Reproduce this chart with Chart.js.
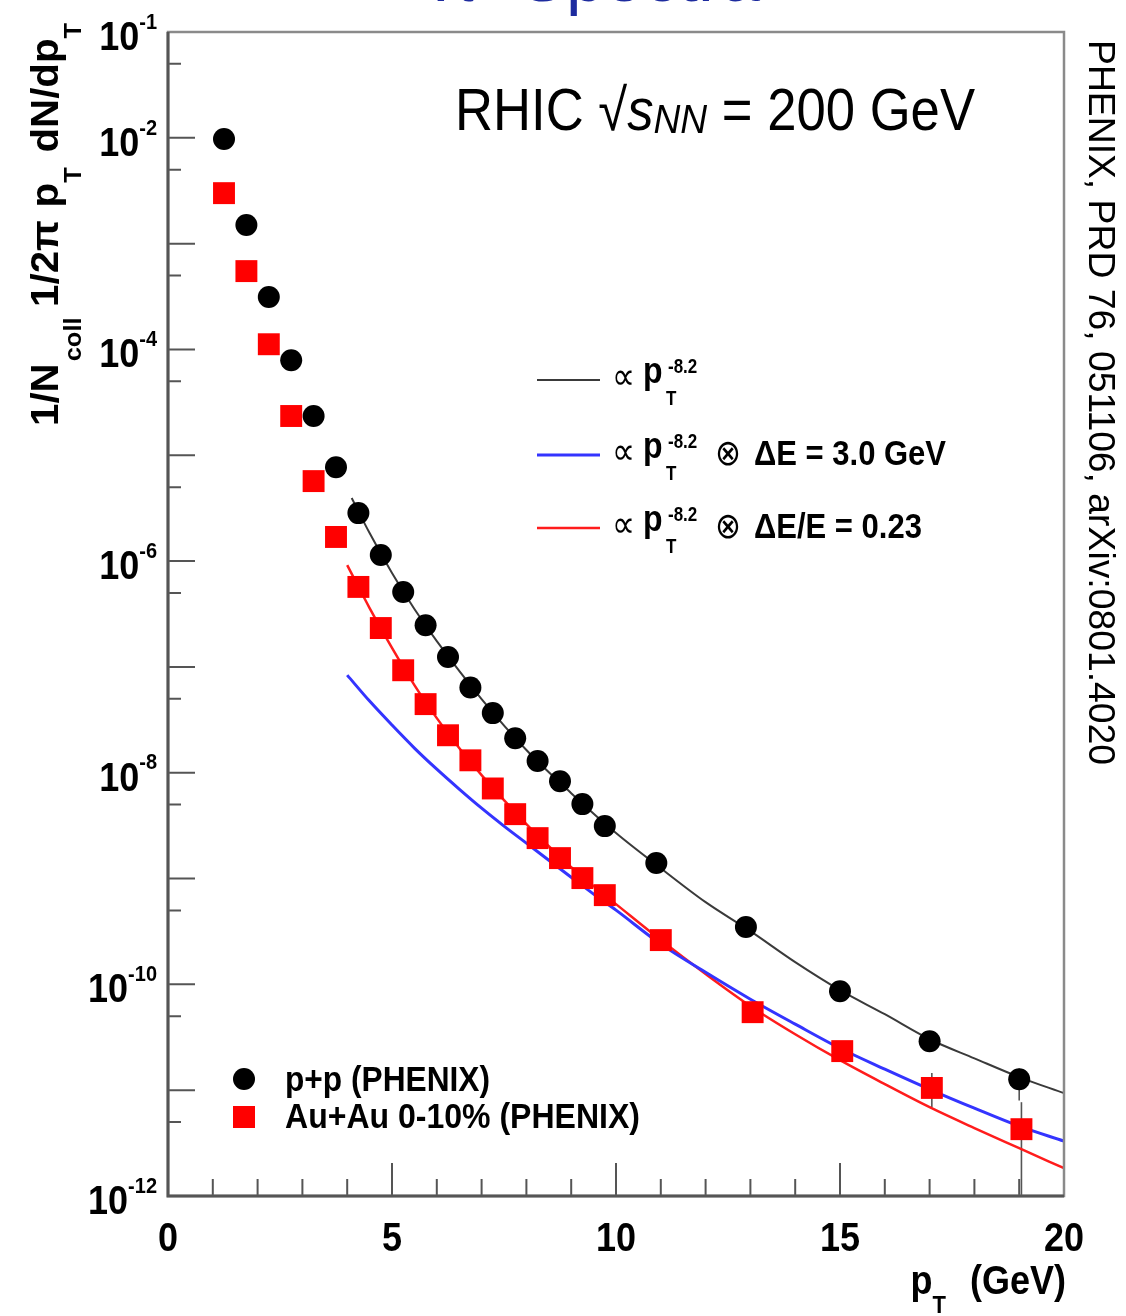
<!DOCTYPE html>
<html lang="en">
<head>
    <meta charset="UTF-8" />
    <title>π0 Spectra</title>
    <script src="https://cdn.jsdelivr.net/npm/chart.js@4.4.1/dist/chart.umd.min.js"></script>
    <style>
        html, body { margin: 0; padding: 0; background: #fff; }
        canvas { display: block; }
    </style>
</head>
<body>
    <canvas id="chart" width="1126" height="1316"></canvas>

    <script>
        // p+p reference (PHENIX)
        const ppPt = [1.25, 1.75, 2.25, 2.75, 3.25, 3.75, 4.25, 4.75, 5.25, 5.75, 6.25, 6.75,
                      7.25, 7.75, 8.25, 8.75, 9.25, 9.75, 10.9, 12.9, 15, 17, 19];
        const ppYield = [9.75e-3, 1.5e-3, 3.13e-4, 7.9e-5, 2.35e-5, 7.7e-6, 2.84e-6, 1.14e-6,
                         5.1e-7, 2.48e-7, 1.24e-7, 6.4e-8, 3.66e-8, 2.12e-8, 1.29e-8, 8.3e-9,
                         5.05e-9, 3.13e-9, 1.40e-9, 3.48e-10, 8.6e-11, 2.9e-11, 1.27e-11];

        // Au+Au 0-10% central (PHENIX)
        const auPt = [1.25, 1.75, 2.25, 2.75, 3.25, 3.75, 4.25, 4.75, 5.25, 5.75, 6.25, 6.75,
                      7.25, 7.75, 8.25, 8.75, 9.25, 9.75, 11, 13.05, 15.05, 17.05, 19.05];
        const auYield = [3.0e-3, 5.5e-4, 1.12e-4, 2.35e-5, 5.7e-6, 1.69e-6, 5.7e-7, 2.33e-7,
                         9.3e-8, 4.45e-8, 2.26e-8, 1.31e-8, 7.1e-9, 4.06e-9, 2.41e-9, 1.56e-9,
                         1.01e-9, 6.97e-10, 2.62e-10, 5.46e-11, 2.34e-11, 1.05e-11, 4.28e-12];

        // error bars that stick out of the markers
        const ppErrPt = [19];
        const ppErrLo = [8e-12];
        const ppErrHi = [1.6e-11];
        const auErrPt = [17.05, 19.05];
        const auErrLo = [6.9e-12, 1e-13];
        const auErrHi = [1.45e-11, 7.7e-12];

        // power law curve through p+p
        const powPt = [4.1, 4.5, 5, 5.5, 6, 7, 8, 9, 10, 11, 12, 13, 14, 15, 16, 17, 18, 19, 20];
        const powYield = [3.94e-6, 1.84e-6, 7.71e-7, 3.52e-7, 1.75e-7, 4.97e-8, 1.64e-8, 6.41e-9,
                          2.69e-9, 1.25e-9, 5.98e-10, 3.18e-10, 1.62e-10, 8.81e-11, 5.22e-11,
                          3.03e-11, 2.00e-11, 1.33e-11, 9.37e-12];

        // energy loss curves
        const elossPt = [4, 4.5, 5, 5.5, 6, 6.5, 7, 7.5, 8, 8.5, 9, 9.5, 10, 11, 12, 13, 14, 15,
                         16, 17, 18, 19, 20];
        const constLossYield = [8.36e-8, 4.75e-8, 2.82e-8, 1.71e-8, 1.08e-8, 7.0e-9, 4.62e-9,
                                3.13e-9, 2.16e-9, 1.49e-9, 1.03e-9, 7.13e-10, 5.03e-10, 2.40e-10,
                                1.30e-10, 7.24e-11, 4.21e-11, 2.49e-11, 1.58e-11, 1.02e-11,
                                6.76e-12, 4.57e-12, 3.30e-12];
        const fracLossYield = [9.16e-7, 3.60e-7, 1.51e-7, 6.73e-8, 3.28e-8, 1.71e-8, 9.49e-9,
                               5.51e-9, 3.27e-9, 2.02e-9, 1.28e-9, 8.48e-10, 5.73e-10, 2.62e-10,
                               1.25e-10, 6.22e-11, 3.38e-11, 1.92e-11, 1.14e-11, 6.90e-12,
                               4.38e-12, 2.83e-12, 1.83e-12];

        const xLabels = [0, 5, 10, 15, 20];
        const yLabelExps = [-1, -2, -4, -6, -8, -10, -12];

        const FF = '"Liberation Sans", Arial, Helvetica, "DejaVu Sans", sans-serif';
        const B = (s) => `bold ${s}px ${FF}`;
        const N = (s) => `${s}px ${FF}`;
        const I = (s) => `italic ${s}px ${FF}`;

        const BLACK_LINE = '#3a3a3a';
        const BLUE = '#3434ff';
        const RED = '#ff1c1c';

        const pts = (xs, ys) => xs.map((x, i) => ({ x: x, y: ys[i] }));

        function richWidth(ctx, parts) {
            let w = 0;
            for (const p of parts) {
                ctx.font = p.font;
                w += (p.gap || 0) + ctx.measureText(p.t).width;
            }
            return w;
        }

        // draws a run of text pieces (sub/superscripts via dy) starting at x,y
        function drawRich(ctx, x, y, parts, o = {}) {
            const natural = richWidth(ctx, parts);
            const sx = o.width ? o.width / natural : 1;
            ctx.save();
            ctx.translate(x, y);
            if (o.rotate) ctx.rotate(o.rotate);
            ctx.scale(sx, o.sy || 1);
            ctx.fillStyle = o.color || '#000';
            ctx.textAlign = 'left';
            ctx.textBaseline = 'alphabetic';
            let cx = 0;
            if (o.align === 'right') cx = -natural;
            if (o.align === 'center') cx = -natural / 2;
            for (const p of parts) {
                ctx.font = p.font;
                cx += p.gap || 0;
                ctx.fillText(p.t, cx, p.dy || 0);
                cx += ctx.measureText(p.t).width;
            }
            ctx.restore();
        }

        function errorBars(ctx, xs, lo, hi, xs_, ys_) {
            for (let i = 0; i < xs.length; i++) {
                const px = xs_.getPixelForValue(xs[i]);
                ctx.beginPath();
                ctx.moveTo(px, ys_.getPixelForValue(hi[i]));
                ctx.lineTo(px, ys_.getPixelForValue(lo[i]));
                ctx.stroke();
            }
        }

        const decorations = {
            id: 'decorations',
            beforeDatasetsDraw(chart) {
                const { ctx, chartArea: a, scales: { x, y } } = chart;
                ctx.save();
                ctx.beginPath();
                ctx.rect(a.left, a.top, a.right - a.left, a.bottom - a.top);
                ctx.clip();
                ctx.strokeStyle = '#555';
                ctx.lineWidth = 1.6;
                errorBars(ctx, ppErrPt, ppErrLo, ppErrHi, x, y);
                errorBars(ctx, auErrPt, auErrLo, auErrHi, x, y);
                ctx.restore();
            },
            afterDatasetsDraw(chart) {
                const { ctx, chartArea: a, scales: { x, y } } = chart;
                ctx.save();
                // ticks
                ctx.strokeStyle = '#555';
                ctx.lineWidth = 2;
                ctx.beginPath();
                for (let e = -12; e <= -1; e++) {
                    const py = y.getPixelForValue(Math.pow(10, e));
                    ctx.moveTo(a.left, py);
                    ctx.lineTo(a.left + 27, py);
                    if (e < -1) {
                        const pm = y.getPixelForValue(5 * Math.pow(10, e));
                        ctx.moveTo(a.left, pm);
                        ctx.lineTo(a.left + 13, pm);
                    }
                }
                for (let v = 0; v <= 20; v++) {
                    const px = x.getPixelForValue(v);
                    ctx.moveTo(px, a.bottom);
                    ctx.lineTo(px, a.bottom - (v % 5 === 0 ? 33 : 17));
                }
                ctx.stroke();
                // frame
                ctx.strokeStyle = '#8a8a8a';
                ctx.lineWidth = 2.5;
                ctx.strokeRect(a.left, a.top, a.right - a.left, a.bottom - a.top);
                ctx.strokeStyle = '#555';
                ctx.lineWidth = 3;
                ctx.beginPath();
                ctx.moveTo(a.left, a.top);
                ctx.lineTo(a.left, a.bottom);
                ctx.lineTo(a.right, a.bottom);
                ctx.stroke();
                ctx.restore();
            },
            afterDraw(chart) {
                const { ctx, chartArea: a, scales: { x, y } } = chart;
                const SY = 1.12;

                // y tick labels
                for (const e of yLabelExps) {
                    const py = y.getPixelForValue(Math.pow(10, e));
                    drawRich(ctx, 157, py + 18, [
                        { t: '10', font: B(36) },
                        { t: String(e), font: B(20), dy: -19 }
                    ], { align: 'right', sy: SY });
                }
                // x tick labels
                for (const v of xLabels) {
                    drawRich(ctx, x.getPixelForValue(v), 1251, [{ t: String(v), font: B(36) }],
                        { align: 'center', sy: SY });
                }
                // x title
                drawRich(ctx, 1066, 1294, [
                    { t: 'p', font: B(36) },
                    { t: 'T', font: B(22), dy: 17 },
                    { t: '(GeV)', font: B(36), gap: 24 }
                ], { align: 'right', sy: SY });
                // y title
                drawRich(ctx, 58, 426, [
                    { t: '1/N', font: B(38) },
                    { t: 'coll', font: B(24), dy: 23, gap: 2 },
                    { t: '1/2π', font: B(38), gap: 10 },
                    { t: 'p', font: B(38), gap: 12 },
                    { t: 'T', font: B(24), dy: 23 },
                    { t: 'dN/dp', font: B(38), gap: 14 },
                    { t: 'T', font: B(24), dy: 23 }
                ], { rotate: -Math.PI / 2, width: 403 });

                // curve legend
                const rows = [
                    { y: 380, color: BLACK_LINE, w: 2, tail: null },
                    { y: 455, color: BLUE, w: 3, tail: 'ΔE = 3.0 GeV' },
                    { y: 528, color: RED, w: 2.5, tail: 'ΔE/E = 0.23' }
                ];
                for (const r of rows) {
                    ctx.save();
                    ctx.strokeStyle = r.color;
                    ctx.lineWidth = r.w;
                    ctx.beginPath();
                    ctx.moveTo(537, r.y);
                    ctx.lineTo(600, r.y);
                    ctx.stroke();
                    ctx.restore();
                    drawRich(ctx, 612, r.y + 9, [{ t: '∝', font: N(38) }], { width: 23 });
                    drawRich(ctx, 643, r.y + 3, [{ t: 'p', font: B(32) }], { sy: 1.15 });
                    drawRich(ctx, 668, r.y - 7, [{ t: '-8.2', font: B(17) }], { sy: 1.15 });
                    drawRich(ctx, 666, r.y + 25, [{ t: 'T', font: B(17) }], { sy: 1.15 });
                    if (r.tail) {
                        drawRich(ctx, 715, r.y + 10, [{ t: '⊗', font: N(36) }], { width: 26 });
                        drawRich(ctx, 754, r.y + 10, [{ t: r.tail, font: B(31) }], { sy: 1.15 });
                    }
                }

                // marker legend
                ctx.save();
                ctx.fillStyle = '#000';
                ctx.beginPath();
                ctx.arc(244, 1079, 11, 0, Math.PI * 2);
                ctx.fill();
                ctx.fillStyle = '#ff0000';
                ctx.fillRect(233, 1106, 22, 22);
                ctx.restore();
                drawRich(ctx, 285, 1091, [{ t: 'p+p (PHENIX)', font: B(31) }], { sy: SY, width: 205 });
                drawRich(ctx, 285, 1128, [{ t: 'Au+Au 0-10% (PHENIX)', font: B(31) }], { sy: SY, width: 355 });

                // energy label
                drawRich(ctx, 455, 130, [
                    { t: 'RHIC ', font: N(51) },
                    { t: '√', font: N(51) },
                    { t: 's', font: I(51) },
                    { t: 'NN', font: I(36), dy: 3 },
                    { t: ' = 200 GeV', font: N(51) }
                ], { sy: 1.15, width: 520 });

                // reference along the right edge
                drawRich(ctx, 1089, 40, [{ t: 'PHENIX, PRD 76, 051106, arXiv:0801.4020', font: N(36) }],
                    { rotate: Math.PI / 2, width: 725 });

                // slide title, mostly above the top edge
                drawRich(ctx, 430, 1, [
                    { t: 'π', font: N(70) },
                    { t: '0', font: N(42), dy: -28 },
                    { t: 'Spectra', font: N(70), gap: 18 }
                ], { color: '#1d2b9e', width: 330 });
            }
        };

        const ctx = document.getElementById('chart').getContext('2d');
        const chart = new Chart(ctx, {
            type: 'scatter',
            data: {
                datasets: [
                    {
                        label: 'p+p (PHENIX)',
                        data: pts(ppPt, ppYield),
                        pointStyle: 'circle',
                        pointRadius: 11,
                        backgroundColor: '#000',
                        borderWidth: 0,
                        order: 0
                    },
                    {
                        label: 'Au+Au 0-10% (PHENIX)',
                        data: pts(auPt, auYield),
                        pointStyle: 'rect',
                        pointRadius: 15.5,
                        backgroundColor: '#ff0000',
                        borderWidth: 0,
                        order: 0
                    },
                    {
                        label: 'pT^-8.2',
                        data: pts(powPt, powYield),
                        showLine: true,
                        pointRadius: 0,
                        borderColor: BLACK_LINE,
                        borderWidth: 2,
                        cubicInterpolationMode: 'monotone',
                        order: 1
                    },
                    {
                        label: 'pT^-8.2 x dE = 3.0 GeV',
                        data: pts(elossPt, constLossYield),
                        showLine: true,
                        pointRadius: 0,
                        borderColor: BLUE,
                        borderWidth: 3,
                        cubicInterpolationMode: 'monotone',
                        order: 1
                    },
                    {
                        label: 'pT^-8.2 x dE/E = 0.23',
                        data: pts(elossPt, fracLossYield),
                        showLine: true,
                        pointRadius: 0,
                        borderColor: RED,
                        borderWidth: 2.5,
                        cubicInterpolationMode: 'monotone',
                        order: 1
                    }
                ]
            },
            options: {
                responsive: false,
                animation: false,
                devicePixelRatio: 1,
                layout: { padding: { left: 168, right: 62, top: 32, bottom: 120 } },
                plugins: {
                    legend: { display: false },
                    tooltip: { enabled: false }
                },
                scales: {
                    x: { type: 'linear', min: 0, max: 20, display: false },
                    y: { type: 'logarithmic', min: 1e-12, max: 1e-1, display: false }
                }
            },
            plugins: [decorations]
        });
    </script>
</body>
</html>
